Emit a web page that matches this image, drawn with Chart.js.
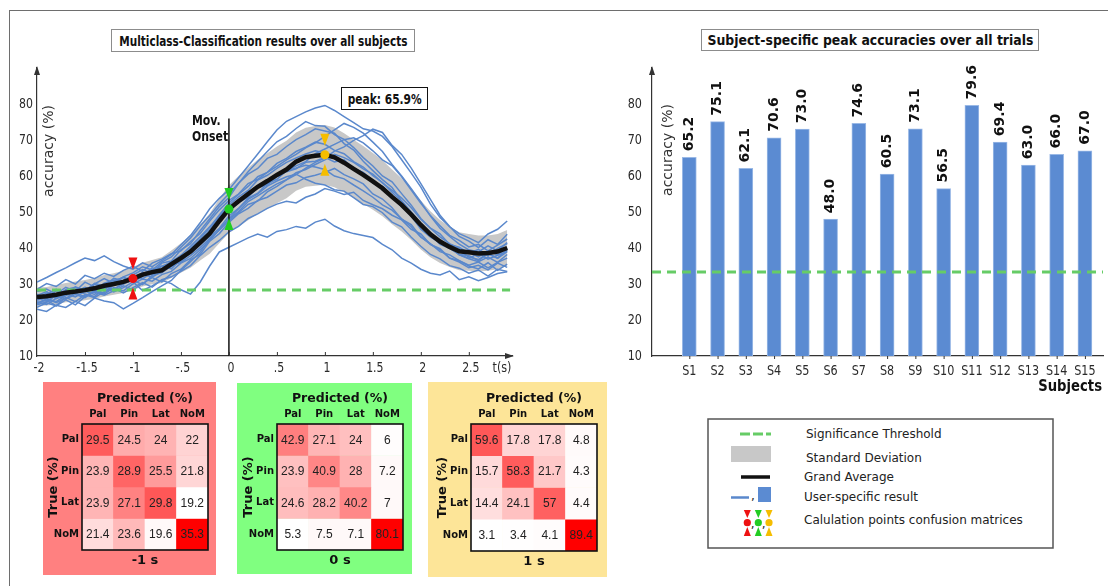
<!DOCTYPE html>
<html>
<head>
<meta charset="utf-8">
<script src="https://cdn.jsdelivr.net/npm/chart.js@4.4.1/dist/chart.umd.min.js"></script>
<style>
  html, body { margin: 0; padding: 0; background: #fff; }
  body { width: 1108px; height: 586px; position: relative; overflow: hidden; font-family: "DejaVu Sans", Verdana, sans-serif; }
  .abs { position: absolute; }
  .frame { left: 9px; top: 10px; width: 1120px; height: 600px; border-top: 1.5px solid #6e6e6e; border-left: 1.5px solid #6e6e6e; }
  .tbox { position: absolute; box-sizing: border-box; background: #fff; display: flex; align-items: center; justify-content: center; font-weight: bold; color: #111; white-space: nowrap; }
  .tbox span { display: inline-block; }
  canvas { position: absolute; }
  .panel { position: absolute; }
</style>
</head>
<body>
<div class="abs frame"></div>

<canvas id="leftChart" width="530" height="400" style="left:0;top:0"></canvas>
<canvas id="rightChart" width="488" height="400" style="left:620px;top:0"></canvas>

<div class="tbox" style="left:111px;top:29px;width:304px;height:23px;border:1.5px solid #8c8c8c;font-size:13.5px"><span id="titleLeft">Multiclass-Classification results over all subjects</span></div>
<div class="tbox" style="left:701px;top:29px;width:338px;height:22px;border:1.5px solid #8c8c8c;font-size:13.5px"><span id="titleRight">Subject-specific peak accuracies over all trials</span></div>
<div class="tbox" style="left:341px;top:87px;width:87px;height:23px;border:1.5px solid #111;font-size:14px"><span id="peakText"></span></div>

<div class="panel" style="left:43px;top:382px;width:173px;height:193px;background:#ff8080"><canvas id="cm0" width="173" height="193" style="left:0;top:0"></canvas></div>
<div class="panel" style="left:237px;top:383px;width:175px;height:191px;background:#80ff80"><canvas id="cm1" width="175" height="191" style="left:0;top:0"></canvas></div>
<div class="panel" style="left:428px;top:382px;width:179px;height:195px;background:#fde598"><canvas id="cm2" width="179" height="195" style="left:0;top:0"></canvas></div>

<svg class="abs" style="left:700px;top:410px" width="360" height="145" font-family="DejaVu Sans, Verdana, sans-serif" font-size="12">
  <rect x="8" y="9" width="345" height="129" fill="#fff" stroke="#555" stroke-width="1.5"/>
  <line x1="40" y1="24" x2="71" y2="24" stroke="#66cc66" stroke-width="3.2" stroke-dasharray="10,3"/>
  <text x="106" y="24" dominant-baseline="central" fill="#222">Significance Threshold</text>
  <rect x="31" y="36" width="40" height="16" fill="#c8c8c8"/>
  <text x="106" y="47.5" dominant-baseline="central" fill="#222">Standard Deviation</text>
  <line x1="41" y1="67" x2="70" y2="67" stroke="#111" stroke-width="3.5"/>
  <text x="104" y="67" dominant-baseline="central" fill="#222">Grand Average</text>
  <line x1="31" y1="87.5" x2="49" y2="87.5" stroke="#5a88cc" stroke-width="2.5"/>
  <text x="51" y="90" fill="#222">,</text>
  <rect x="58" y="77" width="13" height="15" fill="#5b8bd2"/>
  <text x="104" y="87" dominant-baseline="central" fill="#222">User-specific result</text>
  <g id="legendMarks"></g>
  <text x="104" y="109.5" dominant-baseline="central" fill="#222">Calulation points confusion matrices</text>
</svg>

<script>
// ---- time course of the multiclass decoding (t in seconds) ----
const TIME = [-2.0, -1.9, -1.8, -1.7, -1.6, -1.5, -1.4, -1.3, -1.2, -1.1,
              -1.0, -0.9, -0.8, -0.7, -0.6, -0.5, -0.4, -0.3, -0.2, -0.1,
               0.0,  0.1,  0.2,  0.3,  0.4,  0.5,  0.6,  0.7,  0.8,  0.9,
               1.0,  1.1,  1.2,  1.3,  1.4,  1.5,  1.6,  1.7,  1.8,  1.9,
               2.0,  2.1,  2.2,  2.3,  2.4,  2.5,  2.6,  2.7,  2.8,  2.9];

// grand average accuracy (%)
const MEAN = [26.4, 26.6, 27.0, 27.6, 27.9, 28.3, 28.8, 29.5, 30.0, 30.6,
              31.5, 32.6, 33.3, 33.8, 35.5, 37.2, 39.0, 41.5, 44.0, 47.5,
              50.8, 53.0, 55.0, 57.0, 58.6, 60.3, 61.8, 64.0, 65.2, 65.6,
              65.9, 65.2, 63.7, 62.0, 60.3, 58.5, 56.6, 54.2, 52.0, 49.3,
              46.4, 43.8, 41.8, 40.3, 39.1, 38.8, 38.5, 38.6, 39.0, 40.0];

// standard deviation across subjects
const SD = [2.6, 2.6, 2.7, 2.7, 2.8, 2.8, 2.9, 3.0, 3.0, 3.1,
            3.2, 3.3, 3.4, 3.6, 3.8, 4.1, 4.5, 5.0, 5.6, 6.2,
            6.6, 7.0, 7.3, 7.5, 7.7, 7.9, 8.0, 8.1, 8.2, 8.3,
            8.3, 8.3, 8.2, 8.1, 8.0, 7.9, 7.8, 7.6, 7.4, 7.1,
            6.8, 6.4, 6.0, 5.6, 5.3, 5.1, 5.0, 4.9, 4.9, 5.0];

// single-subject accuracy curves
const S1 = [25.1, 24.3, 26.0, 27.2, 26.4, 28.0, 27.1, 29.3, 28.5, 30.2, 31.0, 29.8, 32.4, 33.1, 35.0, 36.2, 38.9, 41.0, 44.3, 47.8,
            50.2, 52.6, 54.1, 56.8, 57.5, 59.9, 61.2, 62.0, 63.8, 64.1, 65.2, 63.9, 64.5, 62.1, 60.8, 58.0, 57.2, 54.6, 52.1, 48.9,
            46.0, 44.2, 41.5, 40.8, 38.2, 37.9, 36.5, 38.4, 37.1, 39.0];
const S2 = [26.8, 27.9, 26.2, 28.5, 29.1, 27.8, 30.2, 29.4, 31.6, 30.9, 32.5, 34.0, 33.1, 35.8, 36.4, 39.5, 41.2, 44.8, 48.1, 51.5,
            54.0, 57.9, 61.2, 64.0, 66.8, 69.5, 71.0, 73.2, 75.1, 74.0, 73.8, 71.5, 70.2, 67.9, 65.1, 62.8, 60.0, 58.4, 55.1, 51.9,
            48.2, 45.5, 43.9, 41.0, 40.2, 38.5, 39.6, 37.8, 39.9, 41.2];
const S3 = [23.5, 24.8, 23.9, 25.6, 24.2, 26.5, 27.8, 26.9, 28.1, 29.5, 28.4, 30.1, 31.8, 30.6, 32.9, 34.1, 36.7, 38.2, 41.9, 44.0,
            47.1, 49.5, 51.0, 53.2, 54.1, 55.8, 57.5, 58.1, 59.6, 60.2, 61.0, 62.1, 60.4, 59.2, 57.8, 55.0, 53.6, 51.2, 48.0, 46.5,
            43.1, 41.0, 39.8, 37.2, 36.5, 35.0, 34.2, 35.9, 33.8, 35.5];
const S4 = [27.9, 28.6, 27.2, 29.1, 28.0, 30.5, 29.2, 28.4, 30.9, 31.8, 30.5, 32.2, 34.5, 33.6, 34.8, 37.0, 38.5, 40.9, 43.2, 45.5,
            48.9, 51.0, 53.8, 55.2, 57.9, 59.1, 61.5, 62.8, 64.0, 66.2, 67.5, 68.8, 70.1, 70.6, 69.2, 67.0, 64.5, 62.9, 59.8, 56.1,
            52.4, 49.0, 46.2, 43.5, 42.1, 40.3, 41.0, 39.2, 40.8, 42.5];
const S5 = [24.2, 25.0, 26.9, 25.8, 27.1, 26.2, 28.0, 29.4, 28.6, 30.0, 31.2, 32.8, 31.9, 33.5, 35.2, 36.0, 37.9, 40.1, 42.6, 45.0,
            47.5, 49.8, 52.1, 53.0, 55.6, 57.1, 58.9, 60.4, 62.2, 63.8, 65.0, 66.9, 68.1, 69.9, 71.2, 73.0, 72.1, 68.5, 66.0, 62.2,
            57.9, 53.5, 49.1, 46.0, 43.2, 41.9, 40.1, 42.3, 41.0, 43.8];
const S6 = [26.1, 27.5, 25.9, 27.0, 28.4, 27.2, 26.5, 28.9, 27.8, 29.0, 30.6, 28.2, 29.5, 31.0, 30.1, 28.4, 27.2, 30.5, 35.0, 38.9,
            40.2, 41.5, 42.8, 43.9, 43.0, 44.6, 45.1, 46.0, 45.5, 47.2, 48.0, 46.1, 44.8, 44.0, 43.5, 42.9, 41.0, 39.5, 37.2, 35.8,
            34.1, 33.0, 32.5, 33.6, 31.2, 32.0, 30.9, 31.8, 32.9, 33.4];
const S7 = [28.5, 30.1, 29.3, 31.2, 30.0, 32.4, 31.5, 33.0, 32.1, 33.8, 34.9, 33.5, 35.8, 36.9, 38.4, 39.2, 41.8, 44.0, 47.5, 50.6,
            53.2, 55.0, 57.9, 59.1, 61.0, 62.7, 64.5, 66.0, 67.8, 69.2, 71.0, 72.8, 74.6, 73.5, 71.9, 69.4, 66.8, 63.2, 60.0, 56.5,
            52.8, 48.9, 45.5, 43.2, 41.1, 39.5, 38.9, 40.6, 39.2, 41.5];
const S8 = [23.0, 22.4, 24.1, 23.5, 25.2, 24.0, 26.1, 25.3, 24.8, 23.1, 24.6, 26.2, 27.9, 29.5, 31.0, 33.8, 36.2, 38.9, 42.5, 45.0,
            48.1, 50.9, 53.5, 55.0, 57.2, 58.6, 59.8, 60.5, 59.1, 58.0, 57.5, 56.2, 55.8, 54.0, 52.1, 51.5, 49.8, 47.2, 45.9, 43.0,
            40.5, 38.2, 37.0, 35.1, 34.4, 33.0, 33.9, 32.2, 34.1, 33.5];
const S9 = [25.5, 26.2, 28.1, 27.0, 29.2, 28.3, 30.0, 31.5, 30.2, 32.0, 33.1, 34.8, 33.9, 36.1, 37.5, 40.2, 42.8, 46.1, 49.0, 52.2,
            55.1, 58.0, 60.5, 62.1, 64.9, 66.0, 68.2, 70.1, 71.5, 73.1, 72.5, 71.9, 69.0, 67.2, 64.1, 61.5, 59.0, 56.8, 53.1, 50.0,
            46.8, 44.1, 42.0, 40.5, 38.1, 37.0, 36.2, 37.5, 36.0, 38.2];
const S10 = [24.8, 25.5, 24.0, 26.3, 25.1, 27.0, 26.2, 27.9, 28.8, 27.5, 29.0, 30.4, 29.1, 31.2, 32.0, 33.5, 35.1, 37.9, 40.2, 42.1,
             44.5, 46.0, 48.2, 49.5, 51.0, 52.2, 53.0, 52.5, 54.1, 55.0, 56.5, 55.8, 54.9, 55.5, 53.2, 52.0, 50.9, 49.1, 47.8, 45.2,
             43.9, 41.0, 39.5, 37.2, 36.1, 34.5, 35.2, 33.9, 35.8, 34.6];
const S11 = [30.5, 31.8, 33.2, 34.5, 35.9, 37.2, 36.5, 37.8, 36.2, 35.0, 34.1, 35.9, 34.8, 36.5, 38.2, 40.9, 43.5, 47.0, 50.9, 53.8,
             56.2, 59.5, 62.8, 66.1, 69.5, 72.8, 75.2, 76.5, 77.8, 78.9, 79.6, 78.2, 76.5, 74.8, 73.1, 72.5, 71.0, 68.2, 64.5, 60.8,
             56.9, 52.2, 48.5, 45.9, 44.0, 42.8, 41.5, 43.9, 45.2, 47.5];
const S12 = [26.0, 25.2, 27.0, 28.2, 27.5, 29.1, 28.0, 30.2, 31.1, 30.0, 31.8, 33.2, 32.5, 34.1, 36.0, 37.2, 39.9, 42.5, 45.8, 49.2,
             52.5, 54.9, 57.1, 59.8, 61.0, 63.5, 64.9, 66.8, 68.0, 69.4, 68.8, 67.1, 66.2, 64.0, 62.5, 60.1, 58.2, 55.5, 53.0, 49.6,
             46.1, 43.8, 41.0, 39.9, 38.2, 37.1, 38.5, 36.9, 38.0, 39.1];
const S13 = [27.2, 26.0, 25.1, 26.8, 27.9, 29.0, 28.2, 27.5, 29.8, 31.0, 32.2, 31.5, 33.0, 34.9, 36.1, 38.0, 40.5, 43.1, 45.9, 48.5,
             50.9, 53.0, 55.5, 57.0, 58.8, 60.1, 61.5, 62.2, 63.0, 62.5, 61.8, 60.0, 59.2, 57.5, 55.9, 54.1, 52.0, 50.5, 48.1, 45.9,
             43.0, 41.2, 39.0, 38.1, 36.5, 35.2, 36.1, 34.5, 36.0, 37.2];
const S14 = [24.5, 25.9, 24.8, 26.1, 27.5, 26.5, 28.3, 27.2, 29.0, 28.1, 30.0, 31.4, 30.8, 32.6, 33.5, 35.8, 37.1, 39.5, 42.0, 45.2,
             48.0, 50.1, 52.9, 54.5, 56.2, 57.8, 59.0, 60.9, 61.8, 63.2, 64.5, 66.0, 65.1, 63.8, 62.0, 60.5, 58.1, 56.0, 53.9, 51.2,
             48.0, 45.5, 43.1, 41.2, 39.9, 38.8, 37.5, 39.2, 38.1, 40.1];
const S15 = [25.8, 27.1, 28.5, 27.4, 29.0, 28.1, 29.9, 28.8, 30.5, 31.9, 30.8, 32.1, 33.9, 35.0, 34.2, 36.9, 39.2, 41.8, 45.1, 48.8,
             51.9, 54.2, 56.0, 58.9, 60.2, 62.1, 63.8, 65.0, 66.1, 67.0, 66.4, 65.2, 63.9, 62.2, 61.0, 58.8, 56.1, 54.2, 51.5, 48.9,
             45.2, 43.0, 41.5, 40.0, 39.2, 37.5, 36.8, 38.5, 37.2, 39.5];
const SUBJECT_CURVES = [S1, S2, S3, S4, S5, S6, S7, S8, S9, S10, S11, S12, S13, S14, S15];

// significance levels (%)
const THRESH_TIME = 28.3;
const THRESH_PEAK = 33.3;

// points at which the confusion matrices are computed
const MARK_IDX = [10, 20, 30];               // t = -1 s, 0 s, 1 s
const MARK_COLORS = ['#ee1111', '#22cc22', '#f5bd00'];

// axis ticks
const XTICKS = [-2, -1.5, -1, -0.5, 0, 0.5, 1, 1.5, 2, 2.5];
const XTICK_LABELS = ['-2', '-1.5', '-1', '-.5', '0', '.5', '1', '1.5', '2', '2.5'];
const YTICKS = [10, 20, 30, 40, 50, 60, 70, 80];

// per-subject peak accuracy (%)
const SUBJECTS = ['S1', 'S2', 'S3', 'S4', 'S5', 'S6', 'S7', 'S8', 'S9', 'S10', 'S11', 'S12', 'S13', 'S14', 'S15'];
const PEAKS = [65.2, 75.1, 62.1, 70.6, 73.0, 48.0, 74.6, 60.5, 73.1, 56.5, 79.6, 69.4, 63.0, 66.0, 67.0];

// confusion matrices (rows: true class, columns: predicted class)
const CM_CLASSES = ['Pal', 'Pin', 'Lat', 'NoM'];
const CM_M1 = [[29.5, 24.5, 24, 22], [23.9, 28.9, 25.5, 21.8], [23.9, 27.1, 29.8, 19.2], [21.4, 23.6, 19.6, 35.3]];
const CM_0  = [[42.9, 27.1, 24, 6], [23.9, 40.9, 28, 7.2], [24.6, 28.2, 40.2, 7], [5.3, 7.5, 7.1, 80.1]];
const CM_P1 = [[59.6, 17.8, 17.8, 4.8], [15.7, 58.3, 21.7, 4.3], [14.4, 24.1, 57, 4.4], [3.1, 3.4, 4.1, 89.4]];
const CM_CAPTIONS = ['-1 s', '0 s', '1 s'];

// ---- drawing helpers ----
const AXIS = '#333';
const TXT = '#2a2a2a';
const FAM = '"DejaVu Sans", Verdana, sans-serif';
Chart.defaults.font.family = FAM;

function textSq(ctx, s, x, y, font, color, align, sx) {
  ctx.save();
  ctx.translate(x, y);
  ctx.scale(sx, 1);
  ctx.font = font; ctx.fillStyle = color; ctx.textAlign = align; ctx.textBaseline = 'middle';
  ctx.fillText(s, 0, 0);
  ctx.restore();
}
function textRot(ctx, s, x, y, font, color, align) {
  ctx.save();
  ctx.translate(x, y);
  ctx.rotate(-Math.PI / 2);
  ctx.font = font; ctx.fillStyle = color; ctx.textAlign = align || 'center'; ctx.textBaseline = 'middle';
  ctx.fillText(s, 0, 0);
  ctx.restore();
}
function tri(ctx, x, yApex, yBase, half, color) {
  ctx.fillStyle = color;
  ctx.beginPath();
  ctx.moveTo(x, yApex); ctx.lineTo(x - half, yBase); ctx.lineTo(x + half, yBase);
  ctx.closePath(); ctx.fill();
}
function arrowUp(ctx, a) {
  ctx.fillStyle = AXIS;
  ctx.beginPath();
  ctx.moveTo(a.left, a.top - 2); ctx.lineTo(a.left - 3, a.top + 7); ctx.lineTo(a.left + 3, a.top + 7);
  ctx.closePath(); ctx.fill();
}
const xy = arr => arr.map((v, i) => ({ x: TIME[i], y: v }));

// ---- time-course chart ----
const upper = MEAN.map((m, i) => +(m + SD[i]).toFixed(2));
const lower = MEAN.map((m, i) => +(m - SD[i]).toFixed(2));
const markerPts = MARK_IDX.map(i => ({ x: TIME[i], y: MEAN[i] }));
const PEAK_ACC = Math.max(...MEAN);
const ONSET_TOP = 76;

const leftDecor = {
  id: 'leftDecor',
  afterDraw(chart) {
    const { ctx, chartArea: a, scales: { x, y } } = chart;
    arrowUp(ctx, a);
    ctx.fillStyle = AXIS;
    ctx.beginPath();
    ctx.moveTo(a.right + 2, a.bottom); ctx.lineTo(a.right - 7, a.bottom - 3); ctx.lineTo(a.right - 7, a.bottom + 3);
    ctx.closePath(); ctx.fill();
    ctx.strokeStyle = AXIS; ctx.lineWidth = 1;
    XTICKS.forEach((t, i) => {
      const px = x.getPixelForValue(t);
      if (i > 0) { ctx.beginPath(); ctx.moveTo(px + 0.5, a.bottom); ctx.lineTo(px + 0.5, a.bottom - 4); ctx.stroke(); }
      textSq(ctx, XTICK_LABELS[i], px + 2, a.bottom + 12, '14px ' + FAM, TXT, 'center', 0.78);
    });
    YTICKS.forEach(v => textSq(ctx, String(v), a.left - 4, y.getPixelForValue(v), '14px ' + FAM, TXT, 'right', 0.78));
    textSq(ctx, 't(s)', a.right - 10, a.bottom + 12, '14px ' + FAM, TXT, 'center', 0.8);
    textRot(ctx, 'accuracy (%)', a.left + 12, a.top + 83, '14px ' + FAM, '#333');
    const ox = x.getPixelForValue(0);
    textSq(ctx, 'Mov.', ox - 37, a.top + 53, 'bold 14px ' + FAM, '#111', 'left', 0.78);
    textSq(ctx, 'Onset', ox - 37, a.top + 69, 'bold 14px ' + FAM, '#111', 'left', 0.78);
    const meta = chart.getDatasetMeta(0);
    meta.data.forEach((pt, k) => {
      tri(ctx, pt.x, pt.y - 9, pt.y - 21, 4.5, MARK_COLORS[k]);
      tri(ctx, pt.x, pt.y + 9, pt.y + 21, 4.5, MARK_COLORS[k]);
    });
  }
};

new Chart(document.getElementById('leftChart'), {
  type: 'line',
  data: {
    datasets: [
      { data: markerPts, showLine: false, pointRadius: 4.5, pointBackgroundColor: MARK_COLORS, pointBorderWidth: 0, order: 0 },
      { data: xy(MEAN), borderColor: '#111', borderWidth: 4.5, pointRadius: 0, tension: 0, order: 1 },
      { data: [{ x: TIME[0], y: THRESH_TIME }, { x: 2.93, y: THRESH_TIME }], borderColor: '#66cc66', borderWidth: 3, borderDash: [9, 6], pointRadius: 0, order: 2 },
      { data: [{ x: 0, y: 10 }, { x: 0, y: ONSET_TOP }], borderColor: '#111', borderWidth: 1.5, pointRadius: 0, order: 2.5 },
      ...SUBJECT_CURVES.map(c => ({ data: xy(c), borderColor: '#5a88cc', borderWidth: 1.5, pointRadius: 0, order: 3 })),
      { data: xy(upper), fill: '+1', backgroundColor: '#c8c8c8', borderColor: 'rgba(0,0,0,0)', borderWidth: 0, pointRadius: 0, order: 4 },
      { data: xy(lower), fill: false, borderColor: 'rgba(0,0,0,0)', borderWidth: 0, pointRadius: 0, order: 5 }
    ]
  },
  options: {
    responsive: false, animation: false, events: [],
    layout: { padding: { left: 37, top: 68, right: 18, bottom: 44 } },
    plugins: { legend: { display: false }, tooltip: { enabled: false } },
    scales: {
      x: { type: 'linear', min: -2, max: 2.95, ticks: { display: false }, grid: { display: false, drawTicks: false },
           border: { display: true, color: AXIS, width: 1.2 }, afterFit(s) { s.height = 0; } },
      y: { type: 'linear', min: 10, max: 90, ticks: { display: false }, grid: { display: false, drawTicks: false },
           border: { display: true, color: AXIS, width: 1.2 }, afterFit(s) { s.width = 0; } }
    }
  },
  plugins: [leftDecor]
});

// ---- per-subject peak chart ----
const rightDecor = {
  id: 'rightDecor',
  afterDraw(chart) {
    const { ctx, chartArea: a, scales: { x, y } } = chart;
    arrowUp(ctx, a);
    YTICKS.forEach(v => textSq(ctx, String(v), a.left - 10, y.getPixelForValue(v), '14px ' + FAM, TXT, 'right', 0.8));
    ctx.strokeStyle = AXIS; ctx.lineWidth = 1;
    SUBJECTS.forEach((s, i) => {
      const px = x.getPixelForValue(i + 1);
      ctx.beginPath(); ctx.moveTo(px + 0.5, a.bottom); ctx.lineTo(px + 0.5, a.bottom + 3); ctx.stroke();
      textSq(ctx, s, px, a.bottom + 15, '14px ' + FAM, TXT, 'center', 0.8);
    });
    textSq(ctx, 'Subjects', a.right - 1, a.bottom + 31, 'bold 16.5px ' + FAM, '#111', 'right', 0.8);
    textRot(ctx, 'accuracy (%)', a.left + 16, a.top + 82, '14px ' + FAM, '#333');
    const meta = chart.getDatasetMeta(1);
    meta.data.forEach((bar, i) => {
      textRot(ctx, PEAKS[i].toFixed(1), bar.x, bar.y - 6, 'bold 14px ' + FAM, '#111', 'left');
    });
  }
};

new Chart(document.getElementById('rightChart'), {
  type: 'bar',
  data: {
    datasets: [
      { type: 'line', data: [{ x: -0.32, y: THRESH_PEAK }, { x: 15.64, y: THRESH_PEAK }], borderColor: '#66cc66', borderWidth: 3,
        borderDash: [9, 6], pointRadius: 0, order: 0 },
      { type: 'bar', data: PEAKS.map((v, i) => ({ x: i + 1, y: v })), base: 10, backgroundColor: '#5b8bd2',
        borderColor: '#9ab9e6', borderWidth: 1, barThickness: 14, order: 1 }
    ]
  },
  options: {
    responsive: false, animation: false, events: [],
    layout: { padding: { left: 32, top: 68, right: 5, bottom: 44 } },
    plugins: { legend: { display: false }, tooltip: { enabled: false } },
    scales: {
      x: { type: 'linear', min: -0.32, max: 15.64, offset: false, ticks: { display: false }, grid: { display: false, drawTicks: false },
           border: { display: true, color: AXIS, width: 1.2 }, afterFit(s) { s.height = 0; } },
      y: { type: 'linear', min: 10, max: 90, ticks: { display: false }, grid: { display: false, drawTicks: false },
           border: { display: true, color: AXIS, width: 1.2 }, afterFit(s) { s.width = 0; } }
    }
  },
  plugins: [rightDecor]
});

// ---- confusion matrices ----
function heat(v, lo, hi) {
  const g = Math.round(255 * (1 - (v - lo) / (hi - lo)));
  return `rgb(255,${g},${g})`;
}
function matrixChart(id, cm, caption, pad) {
  const flat = cm.flat();
  const lo = Math.min(...flat), hi = Math.max(...flat);
  const deco = {
    id: 'cmDeco',
    afterDraw(chart) {
      const { ctx, chartArea: a, scales: { x } } = chart;
      chart.data.datasets.forEach((ds, r) => {
        chart.getDatasetMeta(r).data.forEach((el, c) => {
          textSq(ctx, String(cm[r][c]), el.x, (el.y + el.base) / 2 + 0.5, '12px "Liberation Sans", Arial, sans-serif', '#222', 'center', 1);
        });
      });
      ctx.strokeStyle = '#111'; ctx.lineWidth = 1.6;
      ctx.strokeRect(a.left, a.top, a.right - a.left, a.bottom - a.top);
      const rowH = (a.bottom - a.top) / 4;
      CM_CLASSES.forEach((c, i) => {
        textSq(ctx, c, x.getPixelForValue(i), a.top - 10, 'bold 10px ' + FAM, '#111', 'center', 1);
        textSq(ctx, c, a.left - 3, a.top + rowH * (i + 0.5), 'bold 10px ' + FAM, '#111', 'right', 1);
      });
      const cx = (a.left + a.right) / 2;
      textSq(ctx, 'Predicted (%)', cx, a.top - 25, 'bold 12.5px ' + FAM, '#111', 'center', 1);
      textSq(ctx, caption, cx, a.bottom + 11, 'bold 13px ' + FAM, '#111', 'center', 1);
      textRot(ctx, 'True (%)', a.left - 28, (a.top + a.bottom) / 2, 'bold 13px ' + FAM, '#111');
    }
  };
  new Chart(document.getElementById(id), {
    type: 'bar',
    data: {
      labels: CM_CLASSES,
      datasets: cm.map((row, r) => ({
        data: row.map(() => [r, r + 1]),
        backgroundColor: row.map(v => heat(v, lo, hi)),
        borderWidth: 0, grouped: false, barPercentage: 1, categoryPercentage: 1
      }))
    },
    options: {
      responsive: false, animation: false, events: [],
      layout: { padding: pad },
      plugins: { legend: { display: false }, tooltip: { enabled: false } },
      scales: {
        x: { display: false, offset: true },
        y: { display: false, min: 0, max: 4, reverse: true }
      }
    },
    plugins: [deco]
  });
}
matrixChart('cm0', CM_M1, CM_CAPTIONS[0], { left: 39, top: 42, right: 8, bottom: 25 });
matrixChart('cm1', CM_0,  CM_CAPTIONS[1], { left: 40, top: 41, right: 9, bottom: 24 });
matrixChart('cm2', CM_P1, CM_CAPTIONS[2], { left: 43, top: 42, right: 10, bottom: 26 });

// ---- text fitting for the framed labels ----
document.getElementById('peakText').textContent = 'peak: ' + PEAK_ACC.toFixed(1) + '%';
function fit(id, w) {
  const el = document.getElementById(id);
  const cur = el.getBoundingClientRect().width;
  el.style.transform = 'scaleX(' + (w / cur).toFixed(3) + ')';
}
fit('titleLeft', 288);
fit('titleRight', 326);
fit('peakText', 74);

// legend symbols for the confusion-matrix time points
(function () {
  const g = document.getElementById('legendMarks');
  const ns = 'http://www.w3.org/2000/svg';
  const xs = [47.3, 58.3, 69];
  xs.forEach((cx, k) => {
    const c = MARK_COLORS[k];
    const up = document.createElementNS(ns, 'polygon');
    up.setAttribute('points', `${cx - 3.5},100 ${cx + 3.5},100 ${cx},108`);
    up.setAttribute('fill', c);
    const dn = document.createElementNS(ns, 'polygon');
    dn.setAttribute('points', `${cx - 3.5},126 ${cx + 3.5},126 ${cx},117`);
    dn.setAttribute('fill', c);
    const dot = document.createElementNS(ns, 'circle');
    dot.setAttribute('cx', cx); dot.setAttribute('cy', 112.7); dot.setAttribute('r', 3.6); dot.setAttribute('fill', c);
    g.append(up, dn, dot);
    if (k < 2) {
      const cm = document.createElementNS(ns, 'text');
      cm.setAttribute('x', cx + 3.5); cm.setAttribute('y', 118); cm.setAttribute('fill', '#222');
      cm.textContent = ',';
      g.append(cm);
    }
  });
})();
</script>
</body>
</html>
